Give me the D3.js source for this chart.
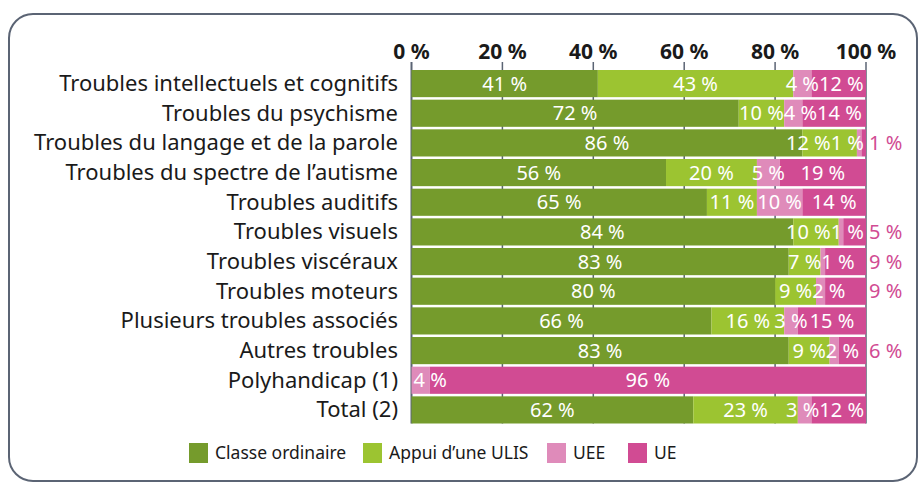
<!DOCTYPE html>
<html><head><meta charset="utf-8">
<script src="https://cdn.jsdelivr.net/npm/d3@7"></script>
<style>
html,body{margin:0;padding:0;background:#fff;}
svg{display:block;font-family:"Noto Sans","Open Sans",sans-serif;}
</style></head>
<body>
<svg id="c" width="919" height="483"></svg>
<script>
const categories = [
  "Troubles intellectuels et cognitifs",
  "Troubles du psychisme",
  "Troubles du langage et de la parole",
  "Troubles du spectre de l\u2019autisme",
  "Troubles auditifs",
  "Troubles visuels",
  "Troubles visc\u00e9raux",
  "Troubles moteurs",
  "Plusieurs troubles associ\u00e9s",
  "Autres troubles",
  "Polyhandicap (1)",
  "Total (2)"
];
const seriesNames = ["Classe ordinaire", "Appui d\u2019une ULIS", "UEE", "UE"];
const classeOrdinaire = [41, 72, 86, 56, 65, 84, 83, 80, 66, 83, 0, 62];
const appuiUlis       = [43, 10, 12, 20, 11, 10, 7, 9, 16, 9, 0, 23];
const uee             = [4, 4, 1, 5, 10, 1, 1, 2, 3, 2, 4, 3];
const ue              = [12, 14, 1, 19, 14, 5, 9, 9, 15, 6, 96, 12];
const tickValues = [0, 20, 40, 60, 80, 100];
const colors = ["#759b2c", "#9cc431", "#df8bba", "#d14b93"];

const seriesValues = [classeOrdinaire, appuiUlis, uee, ue];
const rows = categories.map((c, i) => {
  const o = {cat: c};
  seriesNames.forEach((s, j) => o[s] = seriesValues[j][i]);
  return o;
});
const stack = d3.stack().keys(seriesNames)(rows);

const svg = d3.select("#c");
svg.append("rect").attr("x", 9).attr("y", 14).attr("width", 908).attr("height", 467)
  .attr("rx", 24).attr("fill", "none").attr("stroke", "#5b6474").attr("stroke-width", 2);

const x = d3.scaleLinear().domain([0, 100]).range([411.5, 866]);
const y = d3.scaleBand().domain(categories).range([70, 423.5]).paddingInner(0.085).paddingOuter(0);

svg.append("g").selectAll("line").data(tickValues).join("line")
  .attr("x1", d => x(d)).attr("x2", d => x(d))
  .attr("y1", 62).attr("y2", 423.5)
  .attr("stroke", "#5b6474").attr("stroke-width", d => d === 0 ? 2 : 1.5);

svg.append("g").selectAll("text").data(tickValues).join("text")
  .attr("x", d => x(d)).attr("y", 59)
  .attr("text-anchor", "middle").attr("font-size", 21).attr("font-weight", 700)
  .attr("fill", "#1a1a1a").text(d => d + "\u00a0%");

const g = svg.append("g");
stack.forEach((s, j) => {
  g.append("g").selectAll("rect").data(s).join("rect")
    .attr("x", d => x(d[0]))
    .attr("width", d => Math.max(0, x(d[1]) - x(d[0])))
    .attr("y", d => y(d.data.cat))
    .attr("height", y.bandwidth())
    .attr("fill", colors[j]);
});

svg.append("g").selectAll("text").data(categories).join("text")
  .attr("x", 398).attr("y", d => y(d) + y.bandwidth() / 2)
  .attr("dy", "0.33em").attr("text-anchor", "end")
  .attr("font-size", 22).attr("fill", "#1a1a1a").text(d => d);

// value labels with simple collision resolution per row
const outsideThreshold = 10;
const valSize = 20;
categories.forEach((cat, i) => {
  const cy = y(cat) + y.bandwidth() / 2;
  const inside = [];
  stack.forEach((s, j) => {
    const d = s[i];
    const v = d[1] - d[0];
    if (v <= 0) return;
    if (j === 3 && v < outsideThreshold) {
      svg.append("text").attr("x", x(100) + 3).attr("y", cy).attr("dy", "0.35em")
        .attr("font-size", valSize).attr("fill", colors[3]).text(v + "\u00a0%");
    } else {
      const t = svg.append("text").attr("y", cy).attr("dy", "0.35em")
        .attr("font-size", valSize).attr("fill", "#fff").attr("text-anchor", "middle").text(v + "\u00a0%");
      const w = t.node().getComputedTextLength();
      inside.push({t, w, c: (x(d[0]) + x(d[1])) / 2});
    }
  });
  let prevRight = x(0) + 2;
  inside.forEach(o => {
    if (o.c - o.w / 2 < prevRight) o.c = prevRight + o.w / 2;
    prevRight = o.c + o.w / 2;
  });
  let nextLeft = x(100) - 2;
  for (let k = inside.length - 1; k >= 0; k--) {
    const o = inside[k];
    if (o.c + o.w / 2 > nextLeft) o.c = nextLeft - o.w / 2;
    nextLeft = o.c - o.w / 2;
  }
  inside.forEach(o => o.t.attr("x", o.c));
});

const legX = [189, 363, 547, 628];
const leg = svg.append("g");
seriesNames.forEach((s, j) => {
  leg.append("rect").attr("x", legX[j]).attr("y", 443).attr("width", 19).attr("height", 20).attr("fill", colors[j]);
  leg.append("text").attr("x", legX[j] + 26).attr("y", 459)
    .attr("font-size", 17.5).attr("fill", "#1a1a1a").text(s);
});
</script>
</body></html>
